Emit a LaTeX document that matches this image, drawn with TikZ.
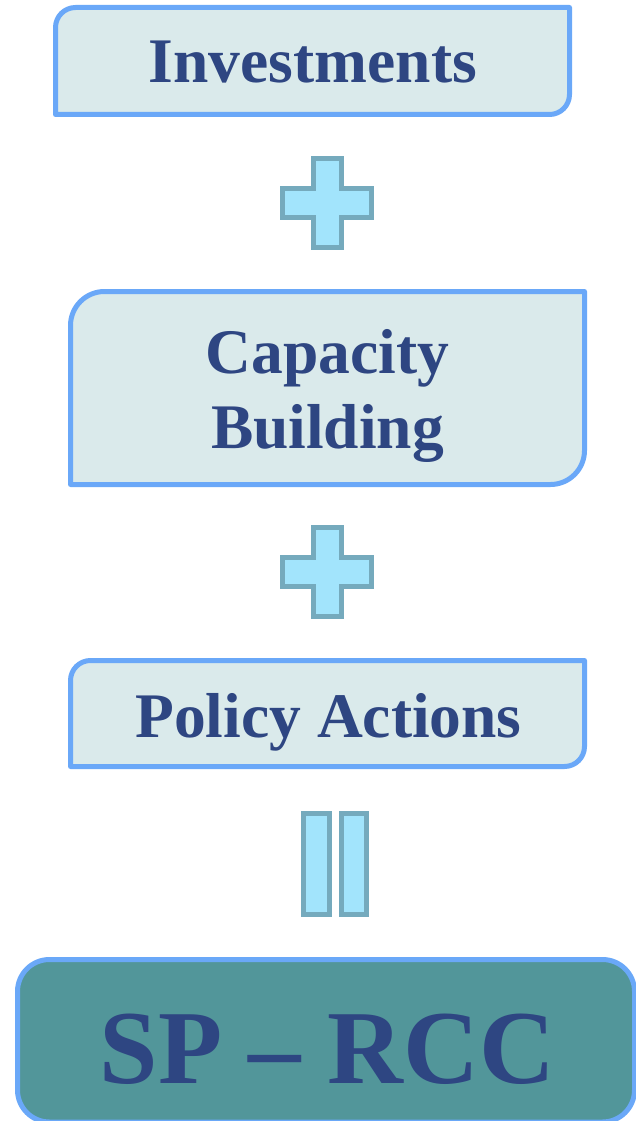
\documentclass[tikz,border=0pt]{standalone}
\usepackage{fontspec}
\setmainfont{Liberation Serif}
\definecolor{boxfill}{HTML}{DAEAEB}
\definecolor{boxline}{HTML}{6AA8F8}
\definecolor{textblue}{HTML}{2E4682}
\definecolor{darkfill}{HTML}{52969A}
\definecolor{plusfill}{HTML}{A2E4FC}
\definecolor{plusline}{HTML}{75AABD}
\tikzset{
  frame/.style={draw=none, inner sep=0pt, outer sep=0pt},
  boxpath/.style={draw=boxline, fill=boxfill, line width=5pt, line join=round},
  lbl/.style={text=textblue, inner sep=0pt, font=\bfseries\fontsize{63.5}{75}\selectfont},
  plusstyle/.style={draw=plusline, fill=plusfill, line width=5pt, line join=miter},
  barstyle/.style={draw=plusline, fill=plusfill, line width=5pt, inner sep=0pt, outer sep=0pt}
}
\begin{document}
\begin{tikzpicture}[x=1pt,y=1pt]
\useasboundingbox (0,0) rectangle (635,-1121);
% Investments
\node[frame, minimum width=514pt, minimum height=107pt] (inv) at (312.5,-61) {};
\draw[boxpath] ([yshift=-20pt]inv.north west) arc[start angle=180, end angle=90, radius=20pt]
  -- (inv.north east) -- ([yshift=20pt]inv.south east) arc[start angle=0, end angle=-90, radius=20pt]
  -- (inv.south west) -- cycle;
\node[lbl, anchor=base] (invt) at (313,-83) {Investments};
% plus 1
\coordinate (plusA) at (327,-202.75);
\draw[plusstyle, shift={(plusA)}] (-14,44.5) -- (14,44.5) -- (14,14.25) -- (44.5,14.25) -- (44.5,-14.25) -- (14,-14.25) -- (14,-44.5) -- (-14,-44.5) -- (-14,-14.25) -- (-44.5,-14.25) -- (-44.5,14.25) -- (-14,14.25) -- cycle;
% Capacity Building
\node[frame, minimum width=514pt, minimum height=193pt] (cap) at (327.5,-388) {};
\draw[boxpath] ([yshift=-34pt]cap.north west) arc[start angle=180, end angle=90, radius=34pt]
  -- (cap.north east) -- ([yshift=34pt]cap.south east) arc[start angle=0, end angle=-90, radius=34pt]
  -- (cap.south west) -- cycle;
\node[lbl, anchor=base, align=center] (capt) at (327.5,-448) {Capacity\\Building};
% plus 2
\coordinate (plusB) at (327,-572);
\draw[plusstyle, shift={(plusB)}] (-14,44.5) -- (14,44.5) -- (14,14.25) -- (44.5,14.25) -- (44.5,-14.25) -- (14,-14.25) -- (14,-44.5) -- (-14,-44.5) -- (-14,-14.25) -- (-44.5,-14.25) -- (-44.5,14.25) -- (-14,14.25) -- cycle;
% Policy Actions
\node[frame, minimum width=514pt, minimum height=106pt] (pol) at (327.5,-713.5) {};
\draw[boxpath] ([yshift=-20pt]pol.north west) arc[start angle=180, end angle=90, radius=20pt]
  -- (pol.north east) -- ([yshift=20pt]pol.south east) arc[start angle=0, end angle=-90, radius=20pt]
  -- (pol.south west) -- cycle;
\node[lbl, anchor=base] (polt) at (328.5,-737) {Policy Actions};
% equals bars
\node[barstyle, minimum width=26pt, minimum height=100.5pt] (eqa) at (316,-863.75) {};
\node[barstyle, minimum width=25pt, minimum height=100.5pt] (eqb) at (354,-863.75) {};
% SP - RCC
\node[draw=boxline, fill=darkfill, line width=5pt, rounded corners=32pt, inner sep=0pt,
      minimum width=617pt, minimum height=162.5pt] (sp) at (326,-1040.75) {};
\node[lbl, anchor=base, font=\bfseries\fontsize{105}{120}\selectfont] (spt) at (327.5,-1083) {SP – RCC};
\end{tikzpicture}
\end{document}
